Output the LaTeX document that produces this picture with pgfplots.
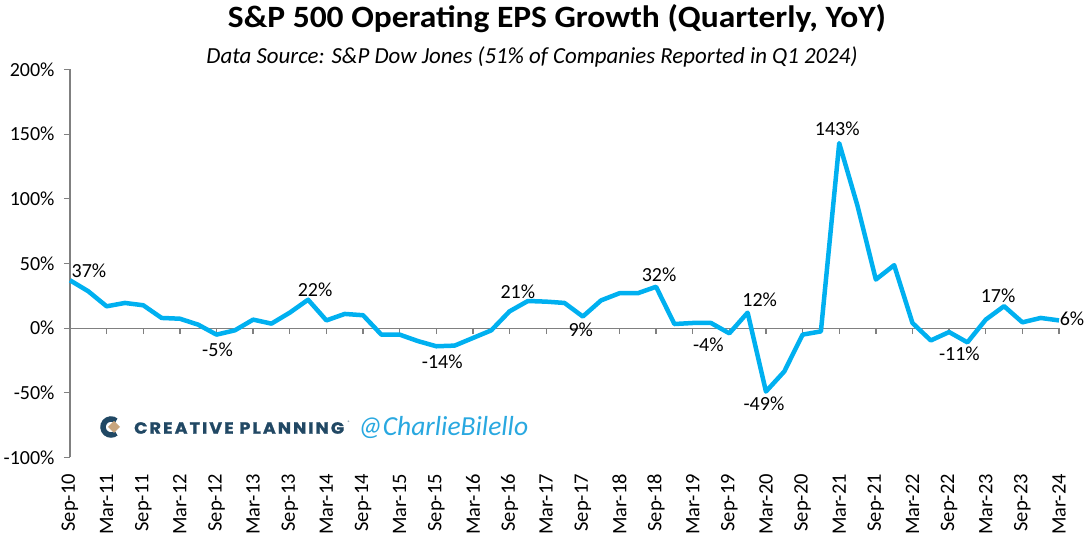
\documentclass[border=0pt]{standalone}
\usepackage{pgfplots}
\pgfplotsset{compat=1.18}
\usepackage{pgfplotstable}
\usepackage{graphicx}
\usepackage{fontspec}
\setmainfont{Carlito}
\newfontfamily\popfont{Poppins}[LetterSpace=12, BoldFeatures={FakeBold=1.2}]
\definecolor{lineblue}{RGB}{0,176,240}
\definecolor{axgray}{RGB}{128,128,128}
\definecolor{cpblue}{RGB}{33,72,100}
\definecolor{cptan}{RGB}{200,165,125}
\definecolor{twblue}{RGB}{41,168,224}

\pgfplotstableread{
x y
0 37
1 28.5
2 16.9
3 19.5
4 17.7
5 7.9
6 7.3
7 2.7
8 -5
9 -1.7
10 6.6
11 3.5
12 12
13 22
14 6
15 11
16 10
17 -5
18 -5
19 -10
20 -14
21 -13.5
22 -7.6
23 -1.7
24 13
25 21
26 20.5
27 19.5
28 9
29 21.5
30 27
31 27
32 32
33 3.2
34 4
35 4
36 -4
37 12
38 -49
39 -33.5
40 -5
41 -2.5
42 143
43 94.5
44 37.6
45 48.7
46 4
47 -9.5
48 -3
49 -11
50 6.6
51 17
52 4.5
53 7.9
54 6
}\eps

\pgfplotstableread{
x y lbl dx dy
0 37 37 19 9.8
8 -5 -5 1 -15
13 22 22 7 10
20 -14 -14 6 -15
25 21 21 -10 9
28 9 9 -2 -13
32 32 32 3 12
36 -4 -4 -21 -11
37 12 12 12 13
38 -49 -49 -2 -12
42 143 143 -2 14
49 -11 -11 -8 -11
51 17 17 -6 10
54 6 6 13 2
}\lbls

\begin{document}
\begin{tikzpicture}
\useasboundingbox (0pt,0pt) rectangle (1088pt,537pt);
% zero line with ticks
\begin{axis}[at={(70pt,79.5pt)}, anchor=south west, scale only axis,
  width=989pt, height=388pt, xmin=0, xmax=54, ymin=-100, ymax=200,
  axis x line*=middle, axis y line=none,
  xtick={0,2,...,54}, xticklabels={}, ytick=\empty,
  x axis line style={axgray, line width=1.3pt},
  xtick style={axgray, line width=1.3pt},
  xtick align=outside, major tick length=6pt]
\end{axis}
\begin{axis}[at={(70pt,79.5pt)}, anchor=south west, scale only axis,
  width=989pt, height=388pt, xmin=0, xmax=54, ymin=-100, ymax=200,
  clip=false,
  axis lines*=left,
  x axis line style={draw=none},
  y axis line style={axgray, line width=1.3pt},
  ytick={-100,-50,0,50,100,150,200},
  yticklabels={-100\%,-50\%,0\%,50\%,100\%,150\%,200\%},
  ytick style={axgray, line width=1.3pt},
  tick align=outside, major tick length=6pt,
  xtick={0,2,...,54},
  xticklabels={Sep-10,Mar-11,Sep-11,Mar-12,Sep-12,Mar-13,Sep-13,Mar-14,Sep-14,Mar-15,Sep-15,Mar-16,Sep-16,Mar-17,Sep-17,Mar-18,Sep-18,Mar-19,Sep-19,Mar-20,Sep-20,Mar-21,Sep-21,Mar-22,Sep-22,Mar-23,Sep-23,Mar-24},
  xtick style={draw=none},
  xticklabel style={rotate=90, anchor=east, xshift=-7pt, font=\fontsize{20.5}{24}\selectfont},
  yticklabel style={font=\fontsize{20}{24}\selectfont, xshift=-6pt},
  every node near coord/.append style={font=\fontsize{20}{24}\selectfont, text=black}]
\addplot[lineblue, line width=4.5pt, line join=round, mark=none] table {\eps};
\addplot[draw=none, mark=none, point meta=explicit symbolic,
  nodes near coords={\pgfplotspointmeta\%},
  visualization depends on={\thisrow{dx} \as \dx},
  visualization depends on={\thisrow{dy} \as \dy},
  every node near coord/.append style={anchor=center, xshift=\dx pt, yshift=\dy pt}]
  table[meta=lbl] {\lbls};
\end{axis}
% titles
\node at (557pt,518pt) {\resizebox{658pt}{\height}{\fontsize{31}{36}\selectfont\bfseries S\&P 500 Operating EPS Growth (Quarterly, YoY)}};
\node at (532pt,480pt) {\resizebox{651pt}{\height}{\fontsize{23}{28}\selectfont\itshape Data Source: S\&P Dow Jones (51\% of Companies Reported in Q1 2024)}};
% watermark
\draw[cpblue, line width=5.5pt] ([shift={(50:8pt)}]111pt,110pt) arc[start angle=50, end angle=310, radius=8pt];
\fill[cptan] (114pt,116pt) -- (120pt,110pt) -- (114pt,104pt) -- (108pt,110pt) -- cycle;
\node[anchor=west, text=cpblue, inner sep=0pt] at (134pt,109pt) {\resizebox{210pt}{11.5pt}{\popfont\bfseries CREATIVE PLANNING}};
\node[text=cpblue, inner sep=0pt] at (349pt,114pt) {\fontsize{5}{6}\selectfont\textregistered};
\node[anchor=west, text=twblue, inner sep=0pt] at (358pt,109pt) {\resizebox{170pt}{!}{\fontsize{24}{28}\selectfont\itshape @CharlieBilello}};
\end{tikzpicture}
\end{document}
